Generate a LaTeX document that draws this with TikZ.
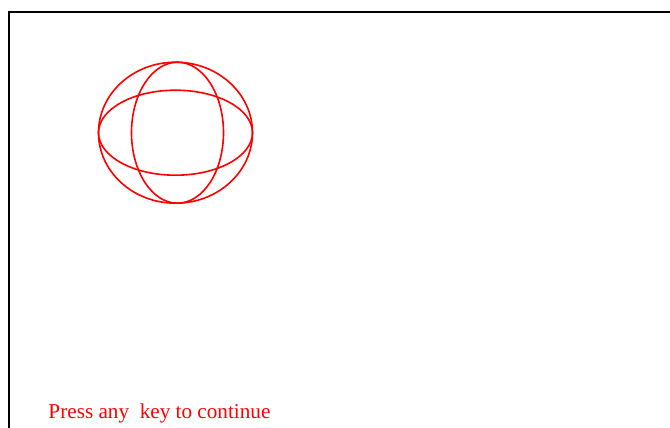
\documentclass[tikz,border=0pt]{standalone}
\usepackage{fontspec}
\setmainfont{Liberation Serif}
\begin{document}
\begin{tikzpicture}[x=1pt,y=-1pt,
  frame/.style={draw=black,line width=2pt},
  globe/.style={draw=red,line width=1.6pt},
  msg/.style={text=red,font=\fontsize{21.2}{24}\selectfont,anchor=base west,inner sep=0pt}]
\useasboundingbox (0,0) rectangle (670,428);
\coordinate (fb) at (9,429);
\coordinate (fc) at (9,12);
\coordinate (fr) at (671,12);
\draw[frame] (fb) -- (fc) -- (fr);
\coordinate (g) at (175.5,132.7);
\coordinate (gv) at (177.5,132.7);
\draw[globe] (g) ellipse [x radius=77, y radius=70.5];
\draw[globe] (g) ellipse [x radius=77, y radius=42.5];
\draw[globe] (gv) ellipse [x radius=46, y radius=70.5];
\node[msg] (m) at (48.3,418.5) {Press any\ \ key to continue};
\end{tikzpicture}
\end{document}
